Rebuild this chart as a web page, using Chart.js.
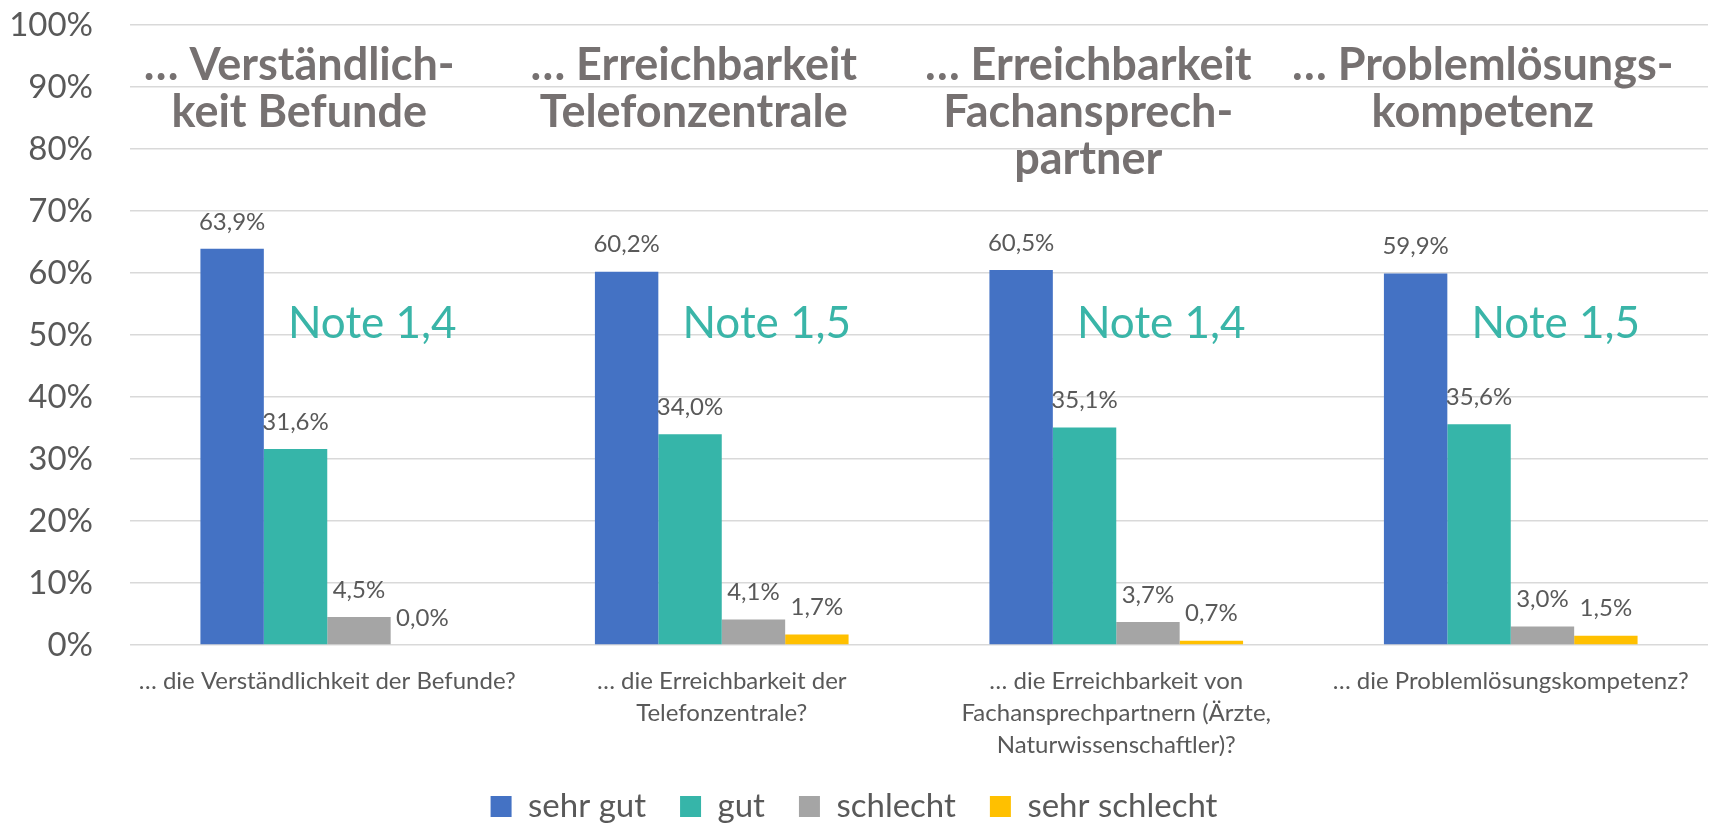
<!DOCTYPE html>
<html>
<head>
<meta charset="utf-8">
<script src="https://cdn.jsdelivr.net/npm/chart.js@4"></script>
<style>
  html, body { margin: 0; padding: 0; background: #fff; }
  #wrap { width: 1710px; height: 827px; }
</style>
</head>
<body>
<div id="wrap"><canvas id="chart"></canvas></div>
<script>
const categories = [
  ['… die Verständlichkeit der Befunde?'],
  ['… die Erreichbarkeit der', 'Telefonzentrale?'],
  ['… die Erreichbarkeit von', 'Fachansprechpartnern (Ärzte,', 'Naturwissenschaftler)?'],
  ['… die Problemlösungskompetenz?']
];
const seriesNames  = ['sehr gut', 'gut', 'schlecht', 'sehr schlecht'];
const sehrGut      = [63.9, 60.2, 60.5, 59.9];
const gut          = [31.6, 34.0, 35.1, 35.6];
const schlecht     = [4.5, 4.1, 3.7, 3.0];
const sehrSchlecht = [0.0, 1.7, 0.7, 1.5];
const titles = [
  ['… Verständlich-', 'keit Befunde'],
  ['… Erreichbarkeit', 'Telefonzentrale'],
  ['… Erreichbarkeit', 'Fachansprech-', 'partner'],
  ['… Problemlösungs-', 'kompetenz']
];
const notes = ['Note 1,4', 'Note 1,5', 'Note 1,4', 'Note 1,5'];

const font   = "Lato, 'Open Sans', sans-serif";
const colors = ['#4472C4', '#36B5A9', '#A5A5A5', '#FFC000'];
const txt    = '#595959';

const fmt = v => v.toFixed(1).replace('.', ',') + '%';

const overlay = {
  id: 'overlay',
  afterDatasetsDraw(chart) {
    const ctx = chart.ctx;
    ctx.save();
    // value labels
    ctx.font = '24px ' + font;
    ctx.fillStyle = txt;
    ctx.textAlign = 'center';
    ctx.textBaseline = 'middle';
    chart.data.datasets.forEach((ds, i) => {
      chart.getDatasetMeta(i).data.forEach((bar, j) => {
        ctx.fillText(fmt(ds.data[j]), bar.x, bar.y - 27);
      });
    });
    // group titles and notes
    const x = chart.scales.x, top = chart.chartArea.top;
    titles.forEach((lines, j) => {
      const cx = x.getPixelForValue(j) - 28;
      ctx.font = 'bold 45px ' + font;
      ctx.fillStyle = '#767171';
      ctx.textBaseline = 'alphabetic';
      lines.forEach((l, k) => ctx.fillText(l, cx, top + 55 + k * 47));
      ctx.font = '44px ' + font;
      ctx.fillStyle = '#3AB5A8';
      ctx.fillText(notes[j], x.getPixelForValue(j) + 45, top + 313);
    });
    ctx.restore();
  }
};

new Chart(document.getElementById('chart'), {
  type: 'bar',
  data: {
    labels: categories,
    datasets: [sehrGut, gut, schlecht, sehrSchlecht].map((d, i) => ({
      label: seriesNames[i], data: d, backgroundColor: colors[i],
      borderWidth: 0, barPercentage: 1, categoryPercentage: 0.643
    }))
  },
  options: {
    responsive: true, maintainAspectRatio: false, animation: false,
    layout: { padding: { top: 0, right: 2, left: 0, bottom: -6 } },
    plugins: {
      legend: {
        position: 'bottom',
        labels: { color: txt, font: { family: font, size: 33 }, boxWidth: 21, boxHeight: 21, padding: 34 }
      },
      tooltip: { enabled: false }
    },
    scales: {
      x: {
        grid: { display: false }, border: { display: false },
        ticks: { color: txt, font: { family: font, size: 24, lineHeight: 1.33 }, padding: 12, maxRotation: 0, autoSkip: false },
        afterFit: s => { s.height = 111; }
      },
      y: {
        min: 0, max: 100,
        grid: { color: '#D9D9D9', lineWidth: 1.5, drawTicks: false }, border: { display: false },
        ticks: { stepSize: 10, color: txt, font: { family: font, size: 33 }, padding: 37, callback: v => v + '%' },
        afterFit: s => { s.width = 130; s.paddingTop = 25; }
      }
    }
  },
  plugins: [overlay]
});
</script>
</body>
</html>
